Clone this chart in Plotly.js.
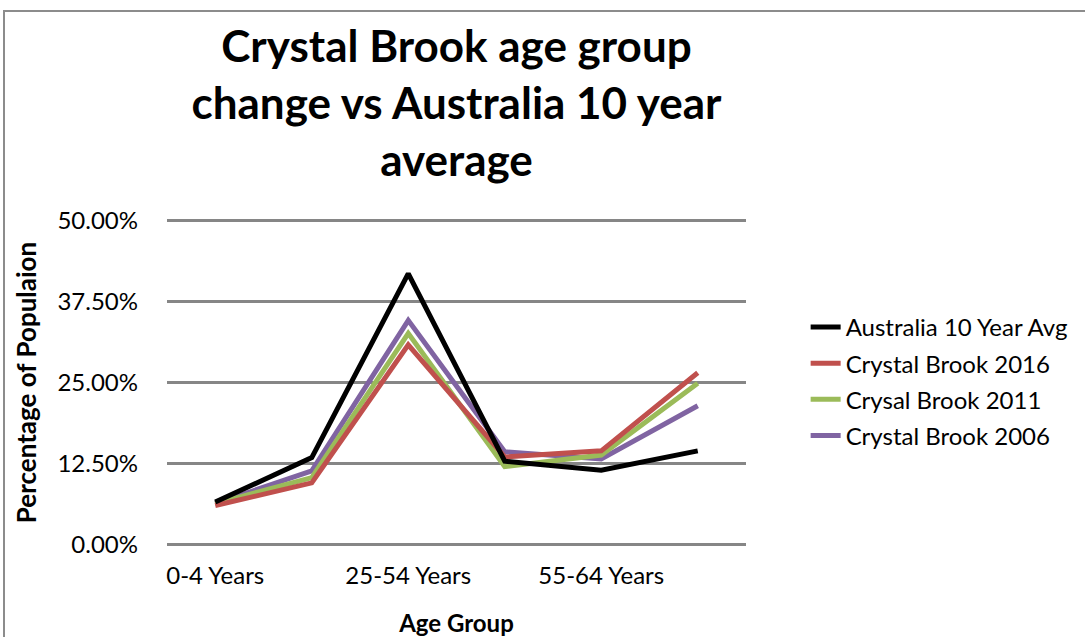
<!DOCTYPE html>
<html>
<head>
<meta charset="utf-8">
<script src="https://cdn.plot.ly/plotly-3.0.1.min.js"></script>
<style>
  html, body { margin: 0; padding: 0; background: #ffffff; }
  #wrap { position: relative; width: 1085px; height: 637px; overflow: hidden; background: #fff; }
  #chart { position: absolute; left: 0; top: 0; width: 1085px; height: 637px; }
  #frame { position: absolute; left: 3px; top: 10px; width: 1200px; height: 700px;
           border-left: 2px solid #8c8c8c; border-top: 2px solid #8c8c8c; pointer-events: none; }
</style>
</head>
<body>
<div id="wrap">
  <div id="chart"></div>
  <div id="frame"></div>
</div>
<script>
// Categories (only every other one is labelled on the axis in the original)
const ageGroups = ["0-4 Years", "5-14 Years", "25-54 Years", "15-24 Years", "55-64 Years", "65+ Years"];
const labelledGroups = ["0-4 Years", "25-54 Years", "55-64 Years"];

// Series values (fractions of population)
const australia10YrAvg = [0.0655, 0.134, 0.418, 0.1285, 0.1145, 0.1445];
const crystalBrook2016 = [0.060, 0.095, 0.308, 0.135, 0.1445, 0.265];
const crysalBrook2011  = [0.063, 0.103, 0.326, 0.120, 0.138, 0.249];
const crystalBrook2006 = [0.063, 0.1135, 0.346, 0.143, 0.132, 0.214];

// Drawing order (bottom to top); legend lists them in reverse
const seriesNames = ["Crystal Brook 2006", "Crysal Brook 2011", "Crystal Brook 2016", "Australia 10 Year Avg"];
const seriesValues = [crystalBrook2006, crysalBrook2011, crystalBrook2016, australia10YrAvg];
const seriesColors = ["#8064A2", "#9BBB59", "#C0504D", "#000000"];

const yTicks = [0, 0.125, 0.25, 0.375, 0.5];

const FONT = "Lato, 'Liberation Sans', sans-serif";

const traces = seriesNames.map((name, i) => ({
  type: "scatter",
  mode: "lines",
  name: name,
  legendgroup: "g" + i,
  legendrank: 1000 - i,
  x: ageGroups,
  y: seriesValues[i],
  line: { color: seriesColors[i], width: 5, shape: "linear" },
  hoverinfo: "x+y+name"
}));

const layout = {
  width: 1085,
  height: 637,
  paper_bgcolor: "rgba(0,0,0,0)",
  plot_bgcolor: "rgba(0,0,0,0)",
  margin: { l: 167, r: 337, t: 218, b: 90, pad: 0 },
  font: { family: FONT, color: "#000000", size: 24 },
  showlegend: true,
  title: {
    text: "<b>Crystal Brook age group<br>change vs Australia 10 year<br>average</b>",
    font: { family: FONT, size: 44, color: "#000000" },
    x: 0.5, xref: "paper", xanchor: "center",
    y: 1 - 62 / 637, yref: "container", yanchor: "top"
  },
  xaxis: {
    type: "category",
    categoryorder: "array",
    categoryarray: ageGroups,
    range: [-0.5, ageGroups.length - 0.5],
    tickmode: "array",
    tickvals: labelledGroups,
    ticktext: labelledGroups,
    ticks: "",
    showgrid: false,
    zeroline: false,
    showline: false,
    ticklabelstandoff: 12,
    tickfont: { family: FONT, size: 24, color: "#000" },
    title: { text: "<b>Age Group</b>", font: { family: FONT, size: 24, color: "#000" }, standoff: 30 },
    fixedrange: true
  },
  yaxis: {
    range: [-0.004, 0.504],
    tickmode: "array",
    tickvals: yTicks,
    tickformat: ".2%",
    ticks: "",
    showgrid: true,
    gridcolor: "#868686",
    gridwidth: 2.5,
    zeroline: false,
    showline: false,
    ticklabelstandoff: 28,
    tickfont: { family: FONT, size: 24, color: "#000" },
    title: { text: "<b>Percentage of Populaion</b>", font: { family: FONT, size: 26, color: "#000" }, standoff: 13 },
    fixedrange: true
  },
  legend: {
    x: 1.103, xanchor: "left",
    y: 0.736, yanchor: "top",
    traceorder: "grouped",
    tracegroupgap: 2,
    font: { family: FONT, size: 24, color: "#000" },
    bgcolor: "rgba(0,0,0,0)",
    borderwidth: 0
  }
};

Plotly.newPlot("chart", traces, layout, { displayModeBar: false, staticPlot: true });
</script>
</body>
</html>
